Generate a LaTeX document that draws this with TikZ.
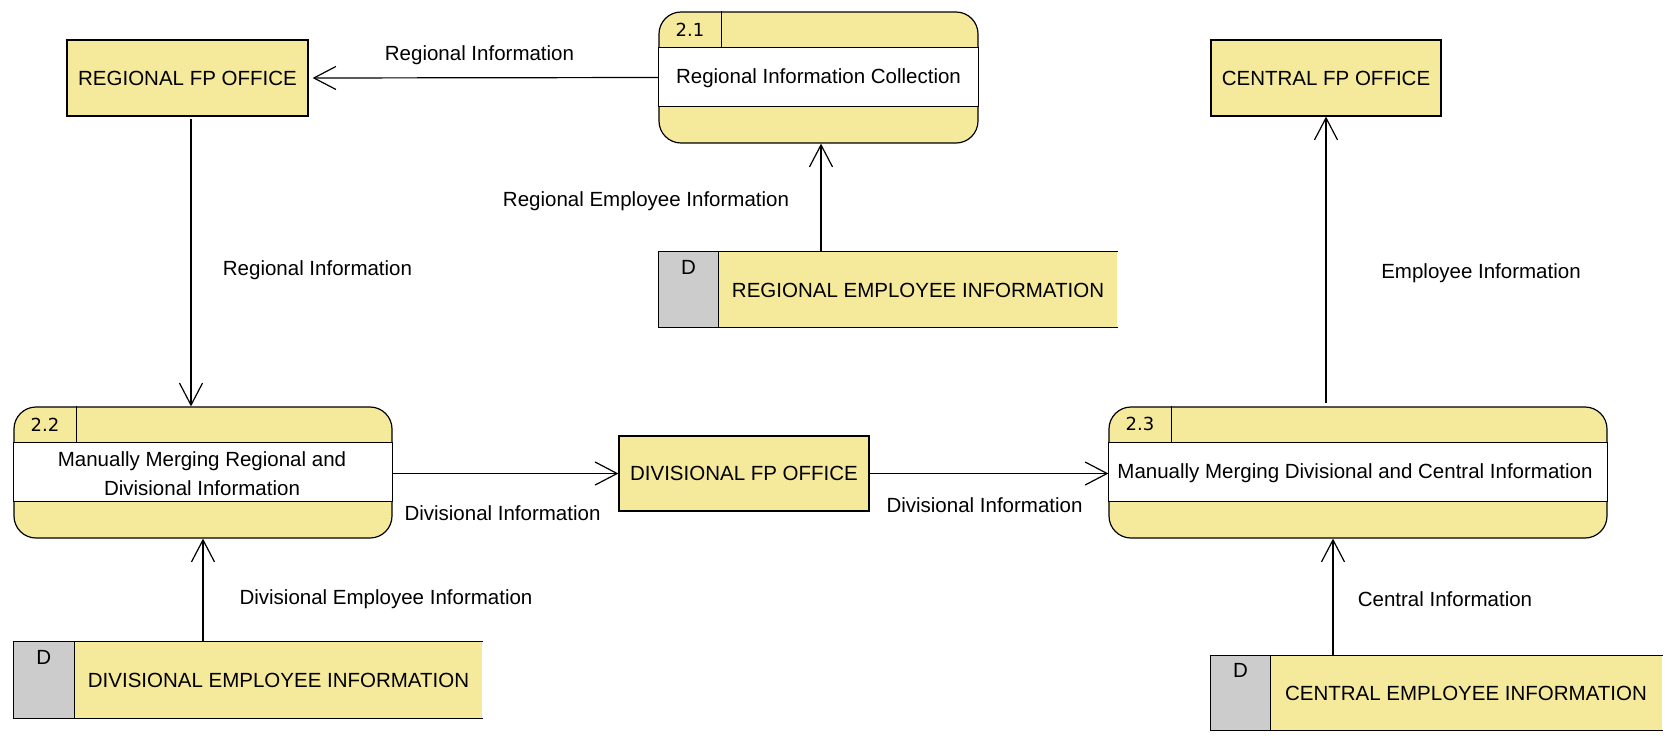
\documentclass[tikz,border=0pt]{standalone}
\usepackage{fontspec}
\setmainfont{Liberation Sans}
\newfontfamily\numfont{DejaVu Sans}
\usetikzlibrary{positioning,arrows.meta}
\definecolor{dfdyellow}{HTML}{F5EA9C}
\definecolor{dfdgray}{HTML}{CCCCCC}

\begin{document}
\begin{tikzpicture}[x=0.5pt, y=-0.5pt,
  font=\fontsize{10.25}{14.5}\selectfont, line width=0.6pt,
  entity/.style={draw, fill=dfdyellow, inner sep=0pt, minimum height=38pt},
  process/.style={draw, fill=dfdyellow, rounded corners=11pt, inner sep=0pt, minimum height=65.5pt},
  store/.style={fill=dfdyellow, inner sep=0pt},
  procnum/.style={font=\numfont\fontsize{9}{10}\selectfont},
  flow/.style={-{Straight Barb[length=11pt,width=11.5pt]}}]
\useasboundingbox (0,0) rectangle (1670,745);

\def\ya{78}
\def\yb{289.5}
\def\yc{472.5}

% external entities
\node[entity, minimum width=120.5pt] (reg) at (187.5, \ya) {REGIONAL FP OFFICE};
\node[entity, minimum width=115pt] (cen) at (1326, \ya) {CENTRAL FP OFFICE};
\node[entity, minimum width=125pt, minimum height=37.5pt] (div) at (744, 473.5) {DIVISIONAL FP OFFICE};

% processes
\node[process, minimum width=159.5pt] (p21) at (818.5, 77.5) {};
\node[process, minimum width=189pt] (p22) at (203, \yc) {};
\node[process, minimum width=249pt] (p23) at (1358, \yc) {};

\filldraw[fill=white] ([yshift=-18pt]p21.north west) rectangle ([yshift=18.5pt]p21.south east);
\filldraw[fill=white] ([yshift=-18pt]p22.north west) rectangle ([yshift=18.5pt]p22.south east);
\filldraw[fill=white] ([yshift=-18pt]p23.north west) rectangle ([yshift=18.5pt]p23.south east);
\draw ([xshift=31.5pt]p21.north west) -- ++(0,36);
\draw ([xshift=31.5pt]p22.north west) -- ++(0,36);
\draw ([xshift=31.5pt]p23.north west) -- ++(0,36);

\node[procnum] (n21) at ([xshift=15.75pt, yshift=-9pt]p21.north west) {2.1};
\node[procnum] (n22) at ([xshift=15.75pt, yshift=-9pt]p22.north west) {2.2};
\node[procnum] (n23) at ([xshift=15.75pt, yshift=-9pt]p23.north west) {2.3};

\node (t21) at (818.5, 78) {Regional Information Collection};
\node[align=center] (t22) at (202, 473.5) {Manually Merging Regional and\\Divisional Information};
\node (t23) at (1355, 473) {Manually Merging Divisional and Central Information};

% data stores
\node[store, minimum width=229pt, minimum height=37.5pt] (rs) at (888, \yb) {};
\node[store, minimum width=234pt, minimum height=38pt] (ds) at (248, 680) {};
\node[store, minimum width=225.5pt, minimum height=37pt] (cs) at (1436.5, 693) {};

\filldraw[fill=dfdgray] (rs.north west) rectangle ([xshift=30pt]rs.south west);
\filldraw[fill=dfdgray] (ds.north west) rectangle ([xshift=30.5pt]ds.south west);
\filldraw[fill=dfdgray] (cs.north west) rectangle ([xshift=30pt]cs.south west);
\draw (rs.north east) -- (rs.north west) -- (rs.south west) -- (rs.south east);
\draw (ds.north east) -- (ds.north west) -- (ds.south west) -- (ds.south east);
\draw (cs.north east) -- (cs.north west) -- (cs.south west) -- (cs.south east);

\node (drs) at ([xshift=15pt, yshift=-8pt]rs.north west) {D};
\node (dds) at ([xshift=15.25pt, yshift=-8pt]ds.north west) {D};
\node (dcs) at ([xshift=15pt, yshift=-7.5pt]cs.north west) {D};

\node (trs) at (918, 290) {REGIONAL EMPLOYEE INFORMATION};
\node (tds) at (278.5, 680) {DIVISIONAL EMPLOYEE INFORMATION};
\node (tcs) at (1466, 693) {CENTRAL EMPLOYEE INFORMATION};

% data flows
\coordinate (rd) at ([xshift=1.75pt, yshift=-1pt]reg.south);
\coordinate (ru) at ([xshift=1.25pt]p21.south);
\coordinate (ci) at (1333, 656);
\draw[flow, shorten >=2pt] (p21.west) -- (reg.east);
\draw[flow] (rd) -- (rd |- p22.north);
\draw[flow] (rs.north -| ru) -- (ru);
\draw[flow] (ds.north -| p22.south) -- (p22.south);
\draw[flow] (p22.east |- div.west) -- (div.west);
\draw[flow] (div.east) -- (div.east -| p23.west);
\draw[flow] ([yshift=1.5pt]cen.south |- p23.north) -- (cen.south);
\draw[flow] (ci) -- (ci |- p23.south);

% flow labels
\node (l1) at (479.5, 55) {Regional Information};
\node (l2) at (317.5, 270) {Regional Information};
\node (l3) at (646, 201) {Regional Employee Information};
\node (l4) at (1481, 273) {Employee Information};
\node (l5) at (502.5, 513) {Divisional Information};
\node (l6) at (984.5, 505) {Divisional Information};
\node (l7) at (386, 599) {Divisional Employee Information};
\node (l8) at (1445, 599) {Central Information};
\end{tikzpicture}
\end{document}
